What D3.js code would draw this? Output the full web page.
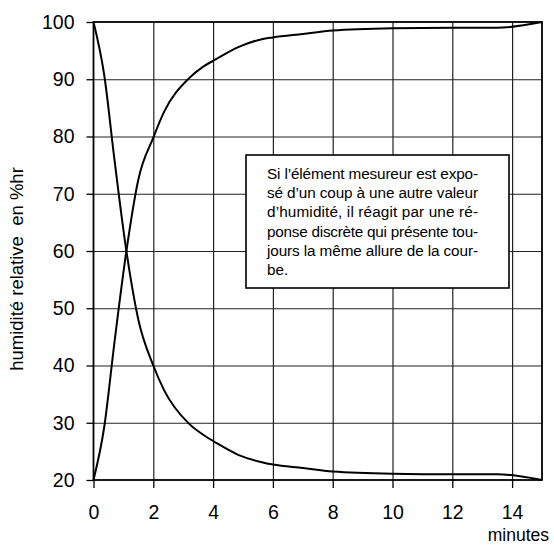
<!DOCTYPE html>
<html>
<head>
<meta charset="utf-8">
<script src="https://cdn.jsdelivr.net/npm/d3@7"></script>
<style>
  body { margin: 0; background: #fff; }
  svg { display: block; font-family: "Liberation Sans", Arial, sans-serif; }
</style>
</head>
<body>
<svg id="chart" width="554" height="547"></svg>
<script>
// time in minutes
const minutes = [0, 0.36, 0.7, 1.1, 1.5, 2.0, 2.36, 3.2, 3.67, 4.1, 4.84, 5.63, 6.0, 7, 8, 10, 12, 13.5, 15];
// humidity stepping up 20 -> 100 %hr
const rising = [20, 29.3, 44, 60, 72.5, 79.8, 84.3, 90.2, 92.2, 93.5, 95.6, 97.0, 97.3, 97.9, 98.5, 98.9, 99.0, 99.0, 100];
// humidity stepping down 100 -> 20 %hr
const falling = [100, 90.7, 76, 60, 48, 40, 35.7, 29.8, 27.9, 26.5, 24.4, 23.1, 22.7, 22.1, 21.5, 21.1, 21.0, 21.0, 20];

const xTicks = [0, 2, 4, 6, 8, 10, 12, 14];
const yTicks = [20, 30, 40, 50, 60, 70, 80, 90, 100];

const noteLines = [
    "Si l\u2019élément mesureur est expo-",
    "sé d\u2019un coup à une autre valeur",
    "d\u2019humidité, il réagit par une ré-",
    "ponse discrète qui présente tou-",
    "jours la même allure de la cour-",
    "be."
];

const svg = d3.select("#chart"),
    margin = { top: 22, left: 93.5, right: 12, bottom: 67 },
    width = 554 - margin.left - margin.right,
    height = 547 - margin.top - margin.bottom;

const x = d3.scaleLinear().domain([0, 15]).range([0, width]);
const y = d3.scaleLinear().domain([20, 100]).range([height, 0]);

const g = svg.append("g")
    .attr("transform", `translate(${margin.left},${margin.top})`);

// grid
g.append("g")
    .attr("transform", `translate(0,${height})`)
    .call(d3.axisBottom(x).tickValues(xTicks.slice(1)).tickSize(-height).tickFormat(""))
    .call(a => a.select(".domain").remove())
    .selectAll("line").attr("stroke", "#222").attr("stroke-width", 1.2);

g.append("g")
    .call(d3.axisLeft(y).tickValues(yTicks.slice(1, -1)).tickSize(-width).tickFormat(""))
    .call(a => a.select(".domain").remove())
    .selectAll("line").attr("stroke", "#222").attr("stroke-width", 1.2);

// axes with outside ticks
const xAxis = g.append("g")
    .attr("transform", `translate(0,${height})`)
    .call(d3.axisBottom(x).tickValues(xTicks).tickSize(8).tickPadding(17));
xAxis.select(".domain").remove();
xAxis.selectAll("line").attr("stroke", "#000").attr("stroke-width", 1.3);
xAxis.selectAll("text").attr("font-size", 19.5).attr("fill", "#000")
    .attr("font-family", "Liberation Sans, Arial, sans-serif");

const yAxis = g.append("g")
    .call(d3.axisLeft(y).tickValues(yTicks).tickSize(7).tickPadding(12));
yAxis.select(".domain").remove();
yAxis.selectAll("line").attr("stroke", "#000").attr("stroke-width", 1.3);
yAxis.selectAll("text").attr("font-size", 19.5).attr("fill", "#000")
    .attr("font-family", "Liberation Sans, Arial, sans-serif");

// frame
g.append("rect")
    .attr("x", 0).attr("y", 0)
    .attr("width", width).attr("height", height)
    .attr("fill", "none").attr("stroke", "#000").attr("stroke-width", 1.8);

// curves
const line = d3.line()
    .x((d, i) => x(minutes[i]))
    .y(d => y(d))
    .curve(d3.curveMonotoneX);

[rising, falling].forEach(s => {
    g.append("path")
        .datum(s)
        .attr("d", line)
        .attr("fill", "none")
        .attr("stroke", "#000")
        .attr("stroke-width", 2);
});

// note box
const box = svg.append("g").attr("transform", "translate(246,155)");
box.append("rect")
    .attr("width", 263).attr("height", 133)
    .attr("fill", "#fff").attr("stroke", "#000").attr("stroke-width", 1.6);
box.selectAll("text")
    .data(noteLines)
    .enter()
    .append("text")
    .attr("x", 21)
    .attr("y", (d, i) => 24 + i * 19.2)
    .attr("font-size", 15.3)
    .attr("fill", "#000")
    .each(function (d, i) {
        if (i < noteLines.length - 1) {
            d3.select(this).attr("textLength", 211).attr("lengthAdjust", "spacing");
        }
    })
    .text(d => d);

// axis titles
svg.append("text")
    .attr("transform", "translate(23,269) rotate(-90)")
    .attr("text-anchor", "middle")
    .attr("font-size", 18.5)
    .attr("fill", "#000")
    .attr("xml:space", "preserve")
    .text("humidité relative  en %hr");

svg.append("text")
    .attr("x", 549)
    .attr("y", 541)
    .attr("text-anchor", "end")
    .attr("font-size", 17.5)
    .attr("fill", "#000")
    .text("minutes");
</script>
</body>
</html>
